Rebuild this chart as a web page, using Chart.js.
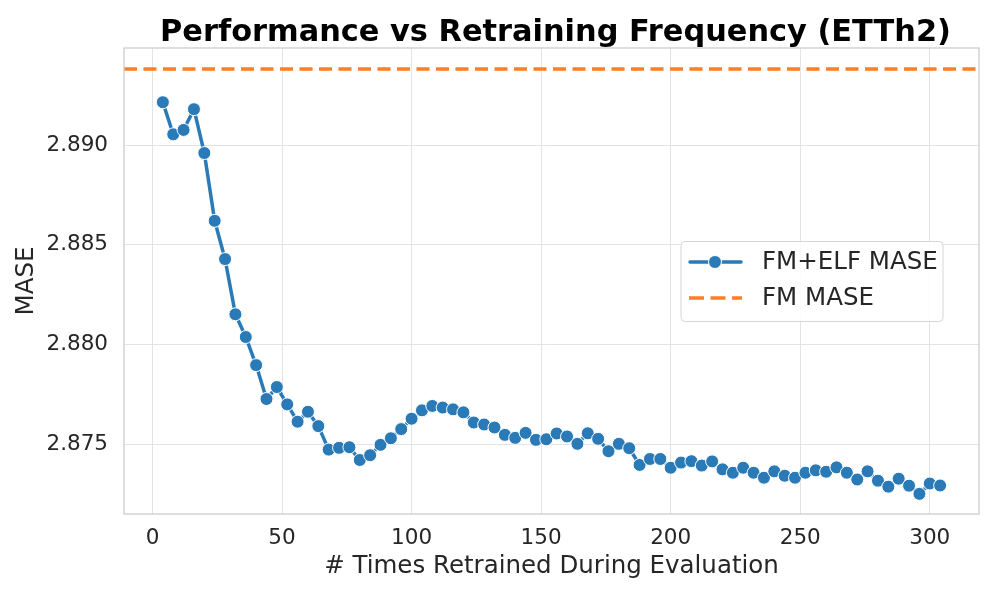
<!DOCTYPE html>
<html>
<head>
<meta charset="utf-8">
<script src="https://cdn.jsdelivr.net/npm/chart.js@4.4.1/dist/chart.umd.min.js"></script>
<style>
html,body{margin:0;padding:0;background:#fff;}
#wrap{width:997px;height:598px;position:relative;}
</style>
</head>
<body>
<div id="wrap"><canvas id="c" width="997" height="598"></canvas></div>
<script>
const retrainCounts = [4,8,12,16,20,24,28,32,36,40,44,48,52,56,60,64,68,72,76,80,84,88,92,96,100,104,108,112,116,120,124,128,132,136,140,144,148,152,156,160,164,168,172,176,180,184,188,192,196,200,204,208,212,216,220,224,228,232,236,240,244,248,252,256,260,264,268,272,276,280,284,288,292,296,300,304];
const fmElfMase = [2.89215,2.89054,2.89076,2.89180,2.88960,2.88620,2.88428,2.88151,2.88037,2.87896,2.87726,2.87786,2.87699,2.87612,2.87662,2.87590,2.87472,2.87481,2.87484,2.87420,2.87444,2.87496,2.87529,2.87575,2.87627,2.87669,2.87691,2.87683,2.87674,2.87659,2.87608,2.87598,2.87583,2.87546,2.87531,2.87556,2.87521,2.87524,2.87553,2.87538,2.87501,2.87554,2.87526,2.87464,2.87501,2.87479,2.87395,2.87425,2.87425,2.87381,2.87407,2.87414,2.87392,2.87413,2.87373,2.87356,2.87381,2.87356,2.87331,2.87363,2.87341,2.87331,2.87356,2.87368,2.87361,2.87383,2.87356,2.87322,2.87363,2.87316,2.87286,2.87326,2.87291,2.87250,2.87302,2.87292];
const fmMase = 2.89382;
const xTicks = [0,50,100,150,200,250,300];
const yTicks = [2.875,2.880,2.885,2.890];
const labels = {title:'Performance vs Retraining Frequency (ETTh2)', x:'# Times Retrained During Evaluation', y:'MASE', s1:'FM+ELF MASE', s2:'FM MASE'};

const BLUE = '#2a7ab8';
const ORANGE = '#ff7f27';
const TXT = '#262626';
const FONT = 'DejaVu Sans';

const points = retrainCounts.map((x,i)=>({x:x, y:fmElfMase[i]}));

const decor = {
  id:'decor',
  beforeDatasetsDraw(chart){
    const {ctx, chartArea:a, scales} = chart;
    const yp = scales.y.getPixelForValue(fmMase);
    ctx.save();
    ctx.strokeStyle = ORANGE; ctx.lineWidth = 3.5; ctx.setLineDash([13,6.5]);
    ctx.beginPath(); ctx.moveTo(a.left, yp); ctx.lineTo(a.right, yp); ctx.stroke();
    ctx.restore();
  },
  afterDraw(chart){
    const {ctx, chartArea:a} = chart;
    ctx.save();
    ctx.strokeStyle = '#cccccc'; ctx.lineWidth = 1.3;
    ctx.strokeRect(a.left, a.top, a.right-a.left, a.bottom-a.top);
    ctx.fillStyle = '#000'; ctx.font = 'bold 30.4px "'+FONT+'"';
    ctx.textAlign = 'center'; ctx.textBaseline = 'alphabetic';
    ctx.fillText(labels.title, (a.left+a.right)/2 + 4, 41);
    const lx=681, ly=241.5, lw=262, lh=80, r=4;
    ctx.beginPath();
    ctx.moveTo(lx+r,ly); ctx.lineTo(lx+lw-r,ly); ctx.quadraticCurveTo(lx+lw,ly,lx+lw,ly+r);
    ctx.lineTo(lx+lw,ly+lh-r); ctx.quadraticCurveTo(lx+lw,ly+lh,lx+lw-r,ly+lh);
    ctx.lineTo(lx+r,ly+lh); ctx.quadraticCurveTo(lx,ly+lh,lx,ly+lh-r);
    ctx.lineTo(lx,ly+r); ctx.quadraticCurveTo(lx,ly,lx+r,ly); ctx.closePath();
    ctx.fillStyle = 'rgba(255,255,255,0.85)'; ctx.fill();
    ctx.strokeStyle = '#d6d6d6'; ctx.lineWidth = 1; ctx.stroke();
    ctx.strokeStyle = BLUE; ctx.lineWidth = 3.5; ctx.lineCap='round';
    ctx.beginPath(); ctx.moveTo(690,262); ctx.lineTo(741,262); ctx.stroke();
    ctx.beginPath(); ctx.arc(715,262,6.5,0,Math.PI*2); ctx.fillStyle=BLUE; ctx.fill();
    ctx.strokeStyle='#fff'; ctx.lineWidth=1; ctx.stroke();
    ctx.lineCap='butt';
    ctx.strokeStyle = ORANGE; ctx.lineWidth = 3.5; ctx.setLineDash([15,6.5]);
    ctx.beginPath(); ctx.moveTo(689,298); ctx.lineTo(742,298); ctx.stroke();
    ctx.setLineDash([]);
    ctx.fillStyle = TXT; ctx.font = '24.5px "'+FONT+'"'; ctx.textAlign='left'; ctx.textBaseline='middle';
    ctx.fillText(labels.s1, 762, 263);
    ctx.fillText(labels.s2, 762, 299);
    ctx.restore();
  }
};

new Chart(document.getElementById('c'), {
  type:'line',
  data:{datasets:[{
    label: labels.s1,
    data: points,
    borderColor: BLUE,
    backgroundColor: BLUE,
    borderWidth: 3.5,
    pointRadius: 6.5,
    pointHoverRadius: 6.5,
    pointBackgroundColor: BLUE,
    pointBorderColor: '#ffffff',
    pointBorderWidth: 1,
    tension: 0,
    fill: false
  }]},
  options:{
    responsive:false,
    animation:false,
    devicePixelRatio:1,
    layout:{padding:{top:48,right:18,left:0,bottom:0}},
    plugins:{legend:{display:false}, title:{display:false}, tooltip:{enabled:false}},
    scales:{
      x:{
        type:'linear', min:-11, max:319,
        afterFit(s){ s.height = 84; },
        afterBuildTicks(s){ s.ticks = xTicks.map(v=>({value:v})); },
        grid:{color:'#e3e3e3', lineWidth:1, drawTicks:false},
        border:{display:false},
        ticks:{color:TXT, font:{family:FONT, size:21.5}, padding:12, maxRotation:0, callback:v=>String(v)},
        title:{display:true, text:labels.x, color:TXT, font:{family:FONT, size:24.5, lineHeight:1}, padding:{top:0,bottom:19}}
      },
      y:{
        type:'linear', min:2.87149, max:2.89487,
        afterFit(s){ s.width = 124; },
        afterBuildTicks(s){ s.ticks = yTicks.map(v=>({value:v})); },
        grid:{color:'#e3e3e3', lineWidth:1, drawTicks:false},
        border:{display:false},
        ticks:{color:TXT, font:{family:FONT, size:21.5}, padding:16, callback:v=>Number(v).toFixed(3)},
        title:{display:true, text:labels.y, color:TXT, font:{family:FONT, size:24.5, lineHeight:1}, padding:{top:14,bottom:0}}
      }
    }
  },
  plugins:[decor]
});
</script>
</body>
</html>
